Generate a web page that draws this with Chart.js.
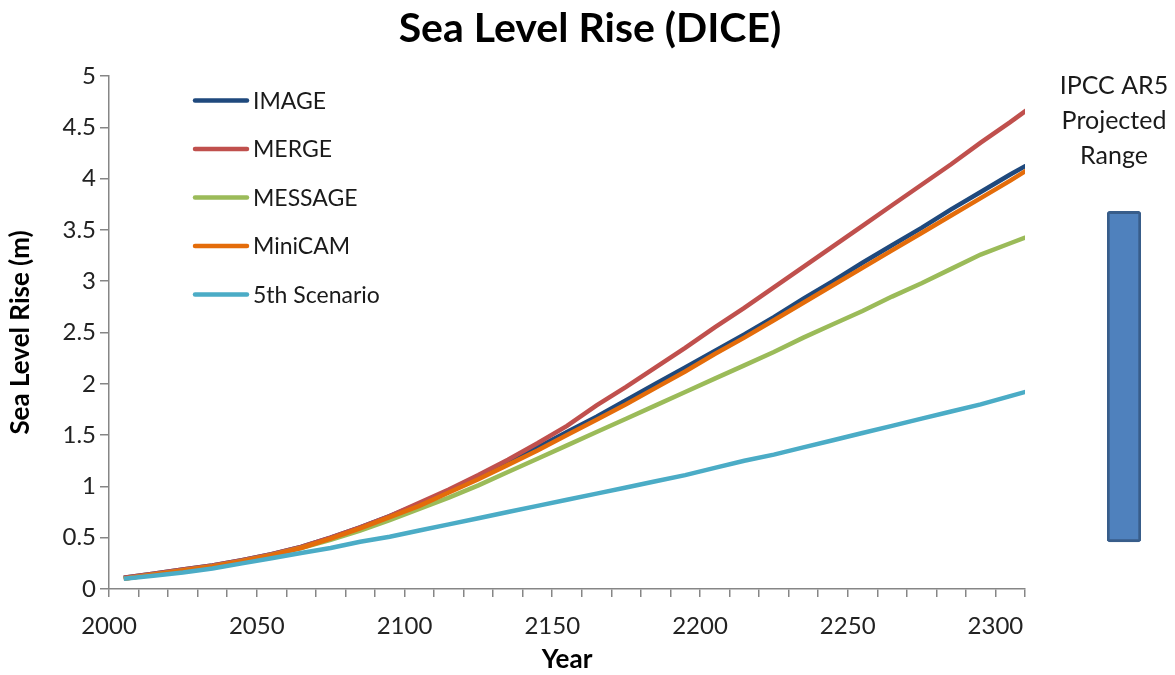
<!DOCTYPE html>
<html>
<head>
<meta charset="utf-8">
<script src="https://cdn.jsdelivr.net/npm/chart.js@4.4.1/dist/chart.umd.min.js"></script>
<style>
  html, body { margin: 0; padding: 0; background: #fff; }
  #wrap { position: relative; width: 1175px; height: 675px; }
  #main { position: absolute; left: 0; top: 0; }
  #range { position: absolute; left: 1050px; top: 0; }
</style>
</head>
<body>
<div id="wrap">
  <canvas id="main" width="1175" height="675"></canvas>
  <canvas id="range" width="125" height="675"></canvas>
</div>
<script>
const years = [2005, 2015, 2025, 2035, 2045, 2055, 2065, 2075, 2085, 2095,
               2105, 2115, 2125, 2135, 2145, 2155, 2165, 2175, 2185, 2195,
               2205, 2215, 2225, 2235, 2245, 2255, 2265, 2275, 2285, 2295,
               2305, 2315];

const image    = [0.11, 0.15, 0.19, 0.23, 0.28, 0.34, 0.41, 0.50, 0.60, 0.71,
                  0.83, 0.96, 1.09, 1.23, 1.38, 1.53, 1.68, 1.84, 2.00, 2.16,
                  2.32, 2.48, 2.65, 2.83, 3.00, 3.18, 3.35, 3.52, 3.70, 3.87,
                  4.04, 4.20];
const merge    = [0.11, 0.15, 0.19, 0.23, 0.28, 0.34, 0.41, 0.50, 0.60, 0.71,
                  0.84, 0.97, 1.11, 1.26, 1.42, 1.59, 1.79, 1.97, 2.16, 2.35,
                  2.55, 2.74, 2.94, 3.14, 3.34, 3.54, 3.74, 3.94, 4.14, 4.35,
                  4.55, 4.76];
const message  = [0.10, 0.14, 0.18, 0.22, 0.27, 0.33, 0.40, 0.48, 0.57, 0.67,
                  0.78, 0.89, 1.01, 1.14, 1.27, 1.40, 1.53, 1.66, 1.79, 1.92,
                  2.05, 2.18, 2.31, 2.45, 2.58, 2.71, 2.85, 2.98, 3.12, 3.26,
                  3.37, 3.48];
const minicam  = [0.10, 0.14, 0.18, 0.22, 0.27, 0.33, 0.40, 0.49, 0.59, 0.70,
                  0.81, 0.94, 1.07, 1.21, 1.35, 1.50, 1.65, 1.80, 1.96, 2.12,
                  2.29, 2.45, 2.62, 2.79, 2.96, 3.13, 3.30, 3.47, 3.64, 3.81,
                  3.98, 4.16];
const fifth    = [0.10, 0.13, 0.16, 0.20, 0.25, 0.30, 0.35, 0.40, 0.46, 0.51,
                  0.57, 0.63, 0.69, 0.75, 0.81, 0.87, 0.93, 0.99, 1.05, 1.11,
                  1.18, 1.25, 1.31, 1.38, 1.45, 1.52, 1.59, 1.66, 1.73, 1.80,
                  1.88, 1.96];

const seriesNames = ['IMAGE', 'MERGE', 'MESSAGE', 'MiniCAM', '5th Scenario'];
const seriesColors = ['#1F497D', '#C0504D', '#9BBB59', '#E46C0A', '#4BACC6'];
const seriesValues = [image, merge, message, minicam, fifth];

// IPCC AR5 projected range (low, high), metres
const ipccRange = [0.46, 3.68];
const ipccLabel = ['IPCC AR5', 'Projected', 'Range'];

const FONT = 'Lato, "Open Sans", sans-serif';

const datasets = seriesNames.map((name, i) => ({
    label: name,
    data: years.map((yr, j) => ({ x: yr, y: seriesValues[i][j] })),
    borderColor: seriesColors[i],
    backgroundColor: seriesColors[i],
    borderWidth: 4.5,
    pointRadius: 0,
    tension: 0,
    clip: 0,
    order: seriesNames.length - i
}));

// legend drawn inside the plot, like the original
const insideLegend = {
    id: 'insideLegend',
    afterDraw(chart) {
        const ctx = chart.ctx;
        ctx.save();
        ctx.font = '23px ' + FONT;
        ctx.textBaseline = 'middle';
        ctx.lineCap = 'round';
        chart.data.datasets.forEach((ds, i) => {
            const y = 100.5 + i * 48.5;
            ctx.strokeStyle = ds.borderColor;
            ctx.lineWidth = 4.5;
            ctx.beginPath();
            ctx.moveTo(195, y);
            ctx.lineTo(247, y);
            ctx.stroke();
            ctx.fillStyle = '#1a1a1a';
            ctx.fillText(ds.label, 253, y + 1);
        });
        ctx.restore();
    }
};

new Chart(document.getElementById('main'), {
    type: 'line',
    data: { datasets: datasets },
    options: {
        responsive: false,
        animation: false,
        layout: { padding: { left: 5, right: 0, top: 0, bottom: 0 } },
        plugins: {
            legend: { display: false },
            tooltip: { enabled: false },
            title: {
                display: true,
                text: 'Sea Level Rise (DICE)',
                color: '#000',
                font: { family: FONT, size: 41, weight: 'bold' },
                padding: { top: 4.4, bottom: 22.4 }
            }
        },
        scales: {
            x: {
                type: 'linear',
                min: 2000,
                max: 2310,
                afterFit(s) { s.height = 86; },
                border: { color: '#868686', width: 1.5 },
                grid: { drawOnChartArea: false, drawTicks: true, tickLength: 8, color: '#868686', lineWidth: 1.5 },
                ticks: {
                    stepSize: 10,
                    autoSkip: false,
                    maxRotation: 0,
                    padding: 15,
                    color: '#222',
                    font: { family: FONT, size: 24 },
                    callback: v => (v % 50 === 0 ? String(v) : '')
                },
                title: {
                    display: true,
                    text: 'Year',
                    color: '#000',
                    font: { family: FONT, size: 26, weight: 'bold' },
                    padding: { top: 0, bottom: 0 }
                }
            },
            y: {
                min: 0,
                max: 5,
                afterFit(s) { s.width = 104; },
                border: { color: '#868686', width: 1.5 },
                grid: { drawOnChartArea: false, drawTicks: true, tickLength: 9, color: '#868686', lineWidth: 1.5 },
                ticks: {
                    stepSize: 0.5,
                    padding: 4,
                    color: '#222',
                    font: { family: FONT, size: 24 },
                    callback: v => String(Number(v))
                },
                title: {
                    display: true,
                    text: 'Sea Level Rise (m)',
                    color: '#000',
                    font: { family: FONT, size: 26, weight: 'bold' },
                    padding: { top: 0, bottom: 0 }
                }
            },
            // empty spacer on the right, leaves room for the range bar
            spacer: {
                type: 'linear',
                position: 'right',
                afterFit(s) { s.width = 150; },
                border: { display: false },
                grid: { display: false },
                ticks: { display: false }
            }
        }
    },
    plugins: [insideLegend]
});

// label above the range bar
const rangeLabel = {
    id: 'rangeLabel',
    afterDraw(chart) {
        const ctx = chart.ctx;
        ctx.save();
        ctx.font = '25px ' + FONT;
        ctx.fillStyle = '#1a1a1a';
        ctx.textAlign = 'center';
        ctx.textBaseline = 'middle';
        ipccLabel.forEach((t, i) => ctx.fillText(t, 64, 86 + i * 35));
        ctx.restore();
    }
};

new Chart(document.getElementById('range'), {
    type: 'bar',
    data: {
        labels: ['IPCC AR5'],
        datasets: [{
            data: [ipccRange],
            backgroundColor: '#4F81BD',
            borderColor: '#385D8A',
            borderWidth: 3,
            borderRadius: 3,
            borderSkipped: false,
            barPercentage: 1,
            categoryPercentage: 1
        }]
    },
    options: {
        responsive: false,
        animation: false,
        layout: { padding: { left: 57, right: 34, top: 76, bottom: 86 } },
        plugins: { legend: { display: false }, tooltip: { enabled: false } },
        scales: {
            x: { display: false },
            y: { display: false, min: 0, max: 5 }
        }
    },
    plugins: [rangeLabel]
});
</script>
</body>
</html>
